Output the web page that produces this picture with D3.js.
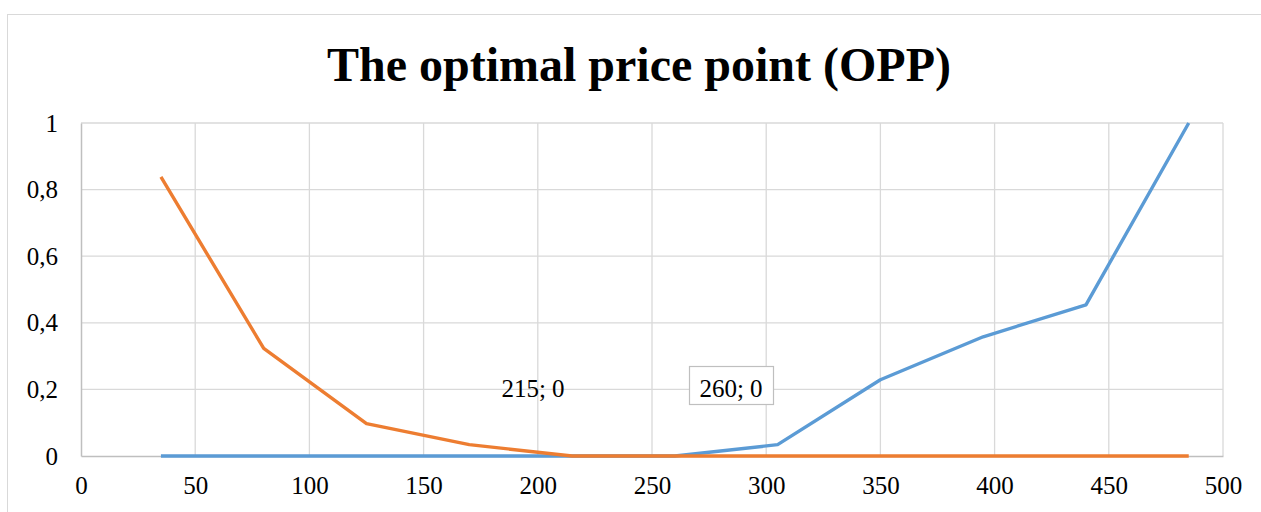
<!DOCTYPE html>
<html>
<head>
<meta charset="utf-8">
<script src="https://cdn.jsdelivr.net/npm/d3@7"></script>
<style>
  body{margin:0;background:#fff;}
  svg text{font-family:"Liberation Serif","Times New Roman",serif;}
</style>
</head>
<body>
<svg id="chart" width="1261" height="512"></svg>
<script>
var prices=[35,80,125,170,215,260,305,350,395,440,485];
var tooCheap=[0.838,0.323,0.097,0.034,0,0,0,0,0,0,0];
var tooExpensive=[0,0,0,0,0,0,0.034,0.229,0.358,0.454,1];
var xTicks=[0,50,100,150,200,250,300,350,400,450,500];
var yTicks=[0,0.2,0.4,0.6,0.8,1];
var labels=[{x:215,y:0,text:"215; 0",box:false},{x:260,y:0,text:"260; 0",box:true}];

var svg=d3.select("#chart");
var x=d3.scaleLinear().domain([0,500]).range([81,1223]);
var y=d3.scaleLinear().domain([0,1]).range([456,123]);

// outer frame
svg.append("rect").attr("x",7.5).attr("y",14.5).attr("width",1270).attr("height",520)
  .attr("fill","#fff").attr("stroke","#d9d9d9").attr("stroke-width",1);

svg.append("text").attr("x",639).attr("y",81).attr("text-anchor","middle")
  .attr("font-size",48).attr("font-weight","bold").attr("fill","#000")
  .text("The optimal price point (OPP)");

// grid
svg.append("g").selectAll("line").data(xTicks.slice(1)).enter().append("line")
  .attr("x1",function(d){return x(d);}).attr("x2",function(d){return x(d);})
  .attr("y1",y(0)).attr("y2",y(1))
  .attr("stroke","#d9d9d9").attr("stroke-width",1.3);
svg.append("g").selectAll("line").data(yTicks.slice(1)).enter().append("line")
  .attr("x1",x(0)).attr("x2",x(500))
  .attr("y1",function(d){return y(d);}).attr("y2",function(d){return y(d);})
  .attr("stroke","#d9d9d9").attr("stroke-width",1.3);

// axes
var fmt=function(d){return String(d).replace(".",",");};
var xa=svg.append("g").attr("transform","translate(0,"+y(0)+")")
  .call(d3.axisBottom(x).tickValues(xTicks).tickSize(0).tickPadding(20).tickFormat(fmt));
var ya=svg.append("g").attr("transform","translate("+x(0)+",0)")
  .call(d3.axisLeft(y).tickValues(yTicks).tickSize(0).tickPadding(23).tickFormat(fmt));
[xa,ya].forEach(function(a){
  a.select(".domain").attr("stroke","#bfbfbf").attr("stroke-width",1.5);
  a.selectAll("text").attr("font-size",25).attr("fill","#000")
   .attr("font-family","Liberation Serif, Times New Roman, serif");
});

var line=d3.line().x(function(d,i){return x(prices[i]);}).y(function(d){return y(d);});
svg.append("path").datum(tooExpensive).attr("d",line).attr("fill","none")
  .attr("stroke","#5b9bd5").attr("stroke-width",3.4).attr("stroke-linejoin","round");
svg.append("path").datum(tooCheap).attr("d",line).attr("fill","none")
  .attr("stroke","#ed7d31").attr("stroke-width",3.4).attr("stroke-linejoin","round");

// data labels
labels.forEach(function(l){
  var g=svg.append("g");
  if(l.box){
    g.append("rect").attr("x",689.5).attr("y",366.5).attr("width",84).attr("height",38)
      .attr("fill","#fff").attr("stroke","#bfbfbf").attr("stroke-width",1.2);
  }
  g.append("text").attr("x",l.box?731:533).attr("y",397).attr("text-anchor","middle")
    .attr("font-size",25).attr("fill","#000").text(l.text);
});
</script>
</body>
</html>
